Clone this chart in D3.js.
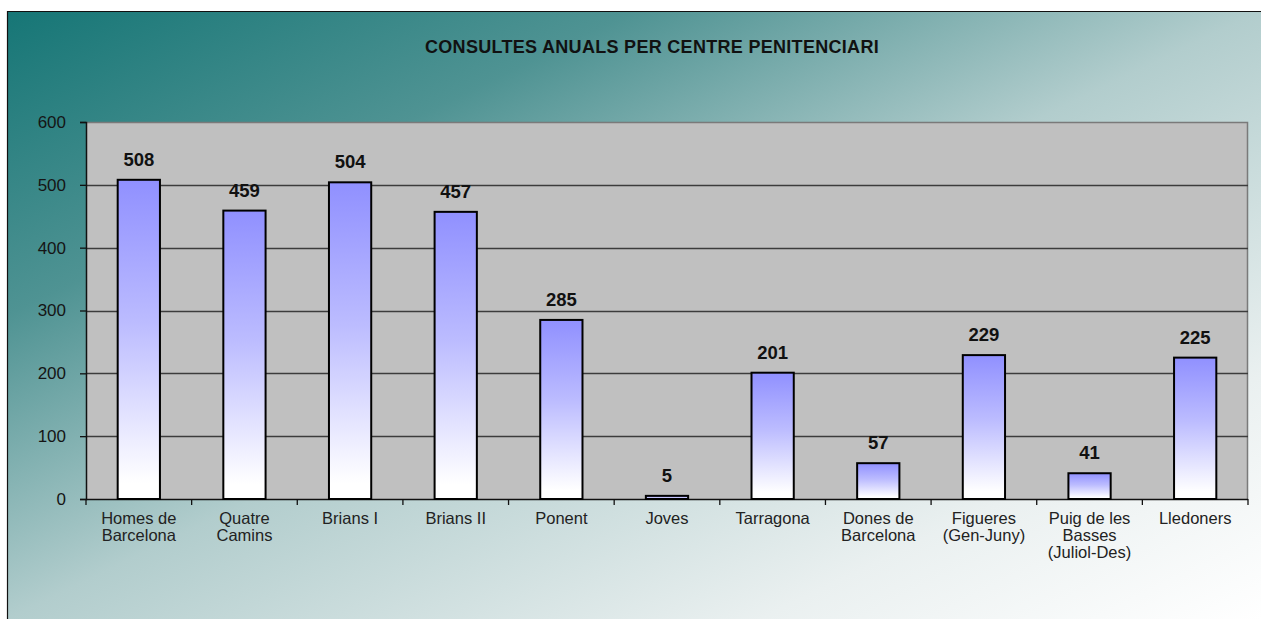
<!DOCTYPE html>
<html>
<head>
<meta charset="utf-8">
<script src="https://cdn.jsdelivr.net/npm/d3@7"></script>
<style>
  html, body { margin: 0; padding: 0; background: #ffffff; }
  svg { display: block; }
  text { font-family: Arial, "Liberation Sans", sans-serif; }
</style>
</head>
<body>
<svg id="chart" width="1261" height="619"></svg>
<script>
const title = "CONSULTES ANUALS PER CENTRE PENITENCIARI";
const categories = [
  ["Homes de", "Barcelona"],
  ["Quatre", "Camins"],
  ["Brians I"],
  ["Brians II"],
  ["Ponent"],
  ["Joves"],
  ["Tarragona"],
  ["Dones de", "Barcelona"],
  ["Figueres", "(Gen-Juny)"],
  ["Puig de les", "Basses", "(Juliol-Des)"],
  ["Lledoners"]
];
const values = [508, 459, 504, 457, 285, 5, 201, 57, 229, 41, 225];
const yTicks = [0, 100, 200, 300, 400, 500, 600];

const W = 1261, H = 619;
const margin = { left: 86, right: 13, top: 122, bottom: 120 };
const svg = d3.select("#chart");
const defs = svg.append("defs");

const bg = defs.append("linearGradient").attr("id", "bg")
  .attr("x1", 0).attr("y1", 0).attr("x2", 1).attr("y2", 1);
bg.append("stop").attr("offset", 0).attr("stop-color", "#167676");
bg.append("stop").attr("offset", 0.25).attr("stop-color", "#4f9393");
bg.append("stop").attr("offset", 0.5).attr("stop-color", "#b2cdcd");
bg.append("stop").attr("offset", 0.8).attr("stop-color", "#eaf0f0");
bg.append("stop").attr("offset", 1).attr("stop-color", "#ffffff");

const barGrad = defs.append("linearGradient").attr("id", "barGrad")
  .attr("x1", 0).attr("y1", 0).attr("x2", 0).attr("y2", 1);
barGrad.append("stop").attr("offset", 0).attr("stop-color", "#9090ff");
barGrad.append("stop").attr("offset", 0.45).attr("stop-color", "#bcbcff");
barGrad.append("stop").attr("offset", 0.95).attr("stop-color", "#ffffff");
barGrad.append("stop").attr("offset", 1).attr("stop-color", "#ffffff");

// background frame
svg.append("rect").attr("x", 7).attr("y", 11).attr("width", W - 7).attr("height", H - 11)
  .attr("fill", "url(#bg)");
svg.append("path").attr("d", `M7.5,${H} V11.5 H${W}`).attr("fill", "none")
  .attr("stroke", "#111").attr("stroke-width", 1.2);

// title
svg.append("text").attr("x", 652).attr("y", 53)
  .attr("text-anchor", "middle").attr("font-size", 18).attr("font-weight", "bold")
  .attr("letter-spacing", 0.3).attr("fill", "#111").text(title);

const x0 = margin.left, x1 = W - margin.right;
const yTop = margin.top, yBot = H - margin.bottom;

const x = d3.scaleBand().domain(d3.range(categories.length))
  .range([x0, x1]).paddingInner(0.6).paddingOuter(0.3);
const y = d3.scaleLinear().domain([0, 600]).range([yBot, yTop]);

// plot area
svg.append("rect").attr("x", x0).attr("y", yTop).attr("width", x1 - x0).attr("height", yBot - yTop)
  .attr("fill", "#c0c0c0");
svg.append("path").attr("d", `M${x0},${yTop + 0.5} H${x1 - 0.5} V${yBot}`)
  .attr("fill", "none").attr("stroke", "#7a7a7a").attr("stroke-width", 1.5);

// gridlines
svg.append("g").selectAll("line").data(yTicks.filter(d => d > 0 && d < 600)).join("line")
  .attr("x1", x0).attr("x2", x1).attr("y1", d => Math.round(y(d)) + 0.5).attr("y2", d => Math.round(y(d)) + 0.5)
  .attr("stroke", "#3c3c3c").attr("stroke-width", 1.3);

// y axis
const yAxis = d3.axisLeft(y).tickValues(yTicks).tickSize(6).tickPadding(14).tickFormat(d3.format("d"));
const gy = svg.append("g").attr("transform", `translate(${x0},0)`).call(yAxis);
gy.select(".domain").attr("stroke", "#111").attr("stroke-width", 1.5);
gy.selectAll(".tick line").attr("stroke", "#111").attr("stroke-width", 1.3);
gy.selectAll(".tick text").attr("font-size", 17).attr("fill", "#151515")
  .attr("font-family", "Arial, 'Liberation Sans', sans-serif");

// x axis line and ticks at category boundaries
svg.append("line").attr("x1", x0).attr("x2", x1).attr("y1", yBot + 0.5).attr("y2", yBot + 0.5)
  .attr("stroke", "#111").attr("stroke-width", 1.5);
const step = x.step();
svg.append("g").selectAll("line").data(d3.range(categories.length + 1)).join("line")
  .attr("x1", i => x0 + i * step).attr("x2", i => x0 + i * step)
  .attr("y1", yBot).attr("y2", yBot + 6)
  .attr("stroke", "#111").attr("stroke-width", 1.3);

// bars
svg.append("g").selectAll("rect").data(values).join("rect")
  .attr("x", (d, i) => x(i)).attr("width", x.bandwidth())
  .attr("y", d => y(d)).attr("height", d => yBot - y(d))
  .attr("fill", "url(#barGrad)").attr("stroke", "#000").attr("stroke-width", 2);

// value labels
svg.append("g").selectAll("text").data(values).join("text")
  .attr("x", (d, i) => x(i) + x.bandwidth() / 2).attr("y", d => y(d) - 14)
  .attr("text-anchor", "middle").attr("font-size", 18.5).attr("font-weight", "bold")
  .attr("fill", "#111").text(d => d);

// category labels
const lab = svg.append("g").selectAll("text").data(categories).join("text")
  .attr("text-anchor", "middle").attr("font-size", 16.5).attr("fill", "#222");
lab.each(function(lines, i) {
  const t = d3.select(this);
  lines.forEach((ln, k) => {
    t.append("tspan").attr("x", x(i) + x.bandwidth() / 2)
      .attr("y", yBot + 25 + k * 17).text(ln);
  });
});
</script>
</body>
</html>
